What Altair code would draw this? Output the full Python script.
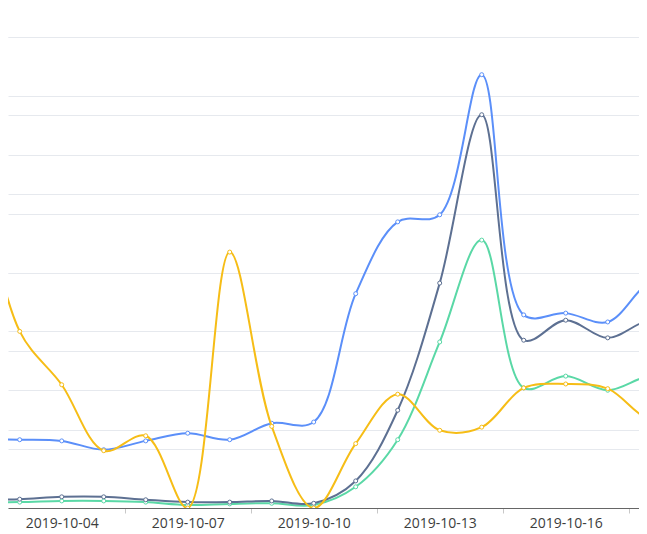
import altair as alt
import pandas as pd

# ---- data ----
dates = ["2019-10-02", "2019-10-03", "2019-10-04", "2019-10-05", "2019-10-06",
         "2019-10-07", "2019-10-08", "2019-10-09", "2019-10-10", "2019-10-11",
         "2019-10-12", "2019-10-13", "2019-10-14", "2019-10-15", "2019-10-16",
         "2019-10-17", "2019-10-18", "2019-10-19"]
blue_vals = [116, 116, 114, 99, 114, 127, 116, 144, 146, 364, 486, 498, 736, 328, 331, 316, 384, 404]
slate_vals = [14, 15, 19, 19, 14, 10, 10, 12, 8, 46, 166, 382, 668, 285, 319, 289, 319, 311]
green_vals = [10, 10, 12, 12, 10, 5, 7, 8, 5, 36, 116, 282, 455, 204, 224, 200, 224, 217]
yellow_vals = [43, 22.5, 15.7, 7.3, 9.2, 0, 32.6, 10.4, 0, 8.2, 14.5, 9.9, 10.3, 15.3, 15.8, 15.2, 11.2, 11]

label_days = [4, 7, 10, 13, 16]
left_ticks = [0, 100, 200, 300, 400, 500, 600, 700, 800]
right_ticks = [0, 10, 20, 30, 40, 50, 60]

series_names = ["C", "B", "A"]
series_colors = ["#5AD8A6", "#5D7092", "#5B8FF9"]
yellow_color = "#F6BD16"

day = pd.to_datetime(pd.Series(dates)).dt.day.astype(float)

rows = []
for name, vals in zip(series_names, [green_vals, slate_vals, blue_vals]):
    for d, s, v in zip(day, dates, vals):
        rows.append({"day": d, "date": s, "series": name, "value": v})
df1 = pd.DataFrame(rows)
df2 = pd.DataFrame({"day": day, "date": dates, "value": yellow_vals})

x_enc = alt.X(
    "day:Q",
    scale=alt.Scale(domain=[2.721, 17.745], nice=False, zero=False),
    axis=alt.Axis(
        values=label_days,
        labelExpr="'2019-10-' + (datum.value < 10 ? '0' : '') + datum.value",
        title=None,
        grid=False,
        tickOffset=63,
        labelOffset=-63,
        tickSize=5,
        tickColor="#c8c8c8",
        domainColor="#666666",
        labelColor="#3d3d3d",
        labelFont="Open Sans",
        labelFontSize=14,
        labelPadding=3,
        labelFlush=False,
        labelOverlap=False,
    ),
)

grid_color = "#E6E9EE"

y1 = alt.Y(
    "value:Q",
    scale=alt.Scale(domain=[0, 800], nice=False),
    axis=alt.Axis(values=left_ticks, labels=False, ticks=False, domain=False,
                  title=None, grid=True, gridColor=grid_color, gridWidth=1),
)
y2 = alt.Y(
    "value:Q",
    scale=alt.Scale(domain=[0, 60], nice=False),
    axis=alt.Axis(values=right_ticks, labels=False, ticks=False, domain=False,
                  title=None, grid=True, gridColor=grid_color, gridWidth=1,
                  orient="right"),
)

color_enc = alt.Color("series:N", scale=alt.Scale(domain=series_names, range=series_colors), legend=None)
interp = "catmull-rom"

base1 = alt.Chart(df1)
line1 = base1.mark_line(interpolate=interp, strokeWidth=2, clip=True).encode(
    x=x_enc, y=y1, color=color_enc, detail="series:N")
pts1 = base1.mark_point(shape="circle", filled=False, fill="white", fillOpacity=1, opacity=1,
                        size=16, strokeWidth=1, clip=True).encode(
    x=x_enc, y=y1, stroke=alt.Stroke("series:N", scale=alt.Scale(domain=series_names, range=series_colors), legend=None))

base2 = alt.Chart(df2)
line2 = base2.mark_line(interpolate=interp, strokeWidth=2, clip=True,
                        color=yellow_color).encode(x=x_enc, y=y2)
pts2 = base2.mark_point(shape="circle", filled=False, fill="white", fillOpacity=1, opacity=1,
                        size=16, strokeWidth=1, clip=True, stroke=yellow_color).encode(x=x_enc, y=y2)

chart = alt.layer(alt.layer(line1, pts1), alt.layer(line2, pts2)).resolve_scale(
    y="independent"
).properties(
    width=631, height=471,
    padding={"left": 0, "right": 0, "top": 29, "bottom": 26},
    autosize=alt.AutoSizeParams(type="none"),
).configure_view(strokeWidth=0)

chart.save("out.html", embed_options={"renderer": "svg", "actions": False})
